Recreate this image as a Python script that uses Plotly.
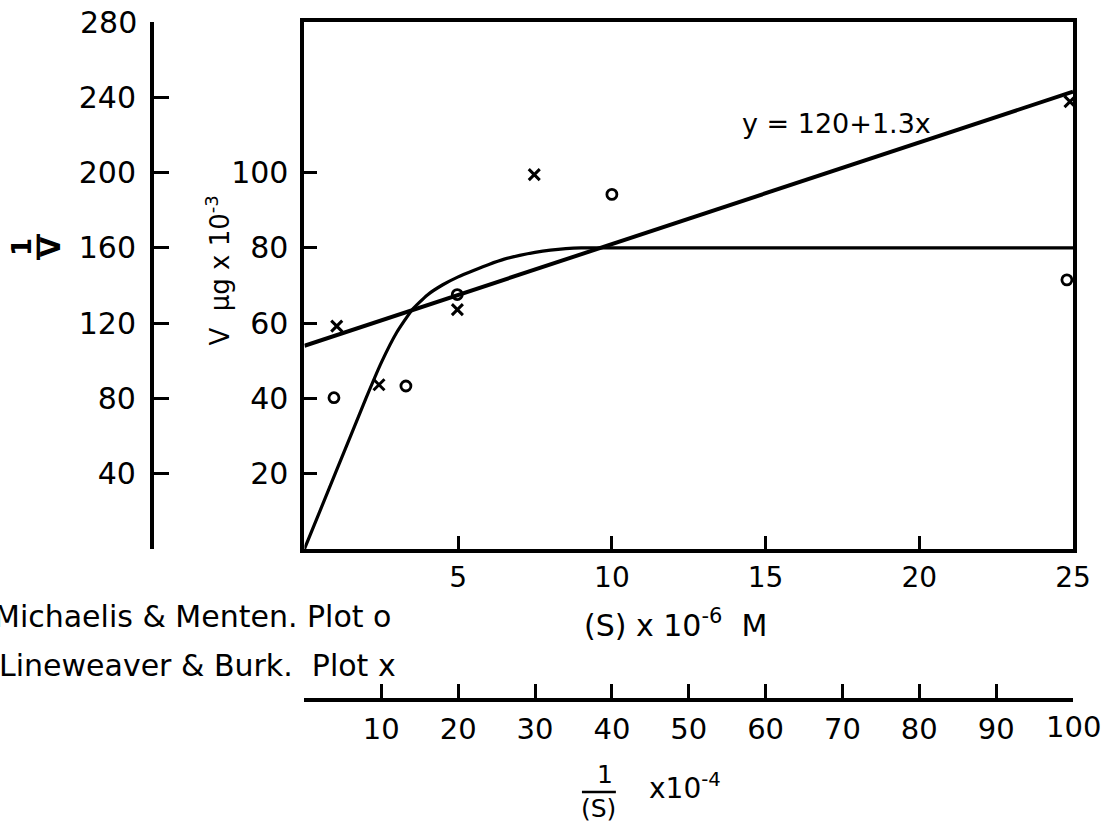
import plotly.graph_objects as go

W, H = 1116, 826
# horizontal width the page actually lays the figure out at (measured from earlier renders)
W_EFF = 1100

# ---------------- data ----------------
# Michaelis & Menten curve: V (µg x 10^-3) against (S) x 10^-6 M
mm_curve_s = [0, 1, 2, 2.5, 3, 3.5, 4, 4.5, 5, 5.5, 6, 6.5, 7, 7.5, 8, 8.5, 9, 10, 25]
mm_curve_v = [0, 20, 40, 49.5, 57.5, 63.5, 67.5, 70.2, 72.3, 74.0, 75.6, 77.0, 78.0, 78.8, 79.4, 79.8, 80, 80, 80]

# Michaelis & Menten plot points (o)
mm_s = [0.96, 3.3, 4.97, 10.0, 24.8]
mm_v = [40.2, 43.3, 67.6, 94.2, 71.5]

# Lineweaver & Burk plot points (x): 1/V against 1/(S) x 10^-4
lb_inv_s = [4.2, 9.7, 19.9, 29.9, 99.6]
lb_inv_v = [118.4, 87.3, 127.2, 198.9, 237.7]

# fitted line y = 120 + 1.3x as drawn
lb_line_x = [0, 100]
lb_line_y = [108, 243]

# axis ticks
s_ticks = [5, 10, 15, 20, 25]
v_ticks = [20, 40, 60, 80, 100]
inv_v_ticks = [40, 80, 120, 160, 200, 240]
inv_s_ticks = [10, 20, 30, 40, 50, 60, 70, 80, 90]

FONT = "'DejaVu Sans', Lato, sans-serif"
BLACK = "#000000"


def px(x):
    return x / W_EFF


def py(y):
    return 1 - y / H


fig = go.Figure()

fig.add_trace(go.Scatter(
    x=mm_curve_s, y=mm_curve_v, mode="lines",
    line=dict(color=BLACK, width=3.2, shape="spline", smoothing=0.5),
    xaxis="x", yaxis="y", showlegend=False, hoverinfo="skip"))

fig.add_trace(go.Scatter(
    x=lb_line_x, y=lb_line_y, mode="lines",
    line=dict(color=BLACK, width=4),
    xaxis="x2", yaxis="y2", showlegend=False, hoverinfo="skip"))

fig.add_trace(go.Scatter(
    x=mm_s, y=mm_v, mode="markers", name="Michaelis & Menten",
    marker=dict(symbol="circle-open", size=10, color=BLACK, line=dict(width=2.8, color=BLACK)),
    xaxis="x", yaxis="y", showlegend=False, cliponaxis=False))

fig.add_trace(go.Scatter(
    x=lb_inv_s, y=lb_inv_v, mode="markers", name="Lineweaver & Burk",
    marker=dict(symbol="x-thin-open", size=11, color=BLACK, line=dict(width=3, color=BLACK)),
    xaxis="x2", yaxis="y2", showlegend=False, cliponaxis=False))

x_dom = [px(305), px(1075)]
y_dom = [py(549), py(22)]

fig.update_layout(
    width=W, height=H, autosize=False,
    margin=dict(l=0, r=0, t=0, b=0),
    paper_bgcolor="white", plot_bgcolor="white",
    font=dict(family=FONT, color=BLACK, size=30),
    xaxis=dict(
        domain=x_dom, range=[0, 25], anchor="y",
        tickmode="array", tickvals=s_ticks, ticktext=[str(t) for t in s_ticks],
        ticks="inside", ticklen=13, tickwidth=3, tickcolor=BLACK,
        showline=True, linewidth=4, linecolor=BLACK, mirror=True,
        showgrid=False, zeroline=False, ticklabelstandoff=0,
        tickfont=dict(size=28, family=FONT)),
    yaxis=dict(
        domain=y_dom, range=[0, 140], anchor="x",
        tickmode="array", tickvals=v_ticks, ticktext=[str(t) for t in v_ticks],
        ticks="inside", ticklen=13, tickwidth=3, tickcolor=BLACK,
        showline=True, linewidth=4, linecolor=BLACK, mirror=True,
        showgrid=False, zeroline=False, ticklabelstandoff=6,
        tickfont=dict(size=30, family=FONT)),
    xaxis2=dict(
        overlaying="x", anchor="free", position=py(700), side="bottom",
        range=[0, 100],
        tickmode="array", tickvals=inv_s_ticks, ticktext=[str(t) for t in inv_s_ticks],
        ticks="inside", ticklen=14, tickwidth=3, tickcolor=BLACK,
        showline=True, linewidth=4, linecolor=BLACK,
        showgrid=False, zeroline=False, ticklabelstandoff=2,
        tickfont=dict(size=29, family=FONT)),
    yaxis2=dict(
        overlaying="y", anchor="free", position=px(152), side="left",
        range=[0, 280],
        tickmode="array", tickvals=inv_v_ticks, ticktext=[str(t) for t in inv_v_ticks],
        ticks="inside", ticklen=16, tickwidth=3, tickcolor=BLACK,
        showline=True, linewidth=3.5, linecolor=BLACK,
        showgrid=False, zeroline=False, ticklabelstandoff=8,
        tickfont=dict(size=30, family=FONT)),
)

ann = []
# end labels without ticks
ann.append(dict(text="280", xref="paper", yref="y2", x=px(139), y=280,
                xanchor="right", yanchor="middle", showarrow=False,
                font=dict(size=30, family=FONT)))
ann.append(dict(text="100", xref="x2", yref="paper", x=100, y=py(727),
                xanchor="center", yanchor="middle", showarrow=False,
                font=dict(size=29, family=FONT)))
# inner y axis title
ann.append(dict(text="V  µg x 10<sup>-3</sup>", xref="paper", yref="paper",
                x=px(218), y=py(270), textangle=-90, showarrow=False,
                xanchor="center", yanchor="middle", font=dict(size=26, family=FONT)))
# outer y axis title: the fraction 1/V turned on its side ("1", bar, "V")
for part, xpos in (("1", 22), ("―", 37), ("V", 51)):
    ann.append(dict(text="<b>%s</b>" % part, xref="paper", yref="paper",
                    x=px(xpos), y=py(247), textangle=-90, showarrow=False,
                    xanchor="center", yanchor="middle", font=dict(size=26, family=FONT)))
# x axis title
ann.append(dict(text="(S) x 10<sup>-6</sup>  M", xref="paper", yref="paper",
                x=px(677), y=py(623), showarrow=False,
                xanchor="center", yanchor="middle", font=dict(size=30, family=FONT)))
# legend-like captions
ann.append(dict(text="Michaelis & Menten. Plot o", xref="paper", yref="paper",
                x=px(-8), y=py(616), showarrow=False,
                xanchor="left", yanchor="middle", font=dict(size=30, family=FONT)))
ann.append(dict(text="Lineweaver & Burk.  Plot x", xref="paper", yref="paper",
                x=px(-3), y=py(665), showarrow=False,
                xanchor="left", yanchor="middle", font=dict(size=30, family=FONT)))
# equation
ann.append(dict(text="y = 120+1.3x", xref="paper", yref="paper",
                x=px(838), y=py(123), showarrow=False,
                xanchor="center", yanchor="middle", font=dict(size=27, family=FONT)))
# bottom axis title 1/(S) x10^-4
ann.append(dict(text="1", xref="paper", yref="paper",
                x=px(606), y=py(774), showarrow=False,
                xanchor="center", yanchor="middle", font=dict(size=25, family=FONT)))
ann.append(dict(text="(S)", xref="paper", yref="paper",
                x=px(600), y=py(808), showarrow=False,
                xanchor="center", yanchor="middle", font=dict(size=25, family=FONT)))
ann.append(dict(text="x10<sup>-4</sup>", xref="paper", yref="paper",
                x=px(686), y=py(786), showarrow=False,
                xanchor="center", yanchor="middle", font=dict(size=28, family=FONT)))
fig.update_layout(annotations=ann)

fig.add_shape(type="line", xref="paper", yref="paper",
              x0=px(583), x1=px(617), y0=py(792), y1=py(792),
              line=dict(color=BLACK, width=2.5))

page_fix = ("document.documentElement.style.overflow='hidden';"
            "document.body.style.margin='0';document.body.style.overflow='hidden';")
fig.write_html("out.html", config={"responsive": False}, post_script=page_fix)
